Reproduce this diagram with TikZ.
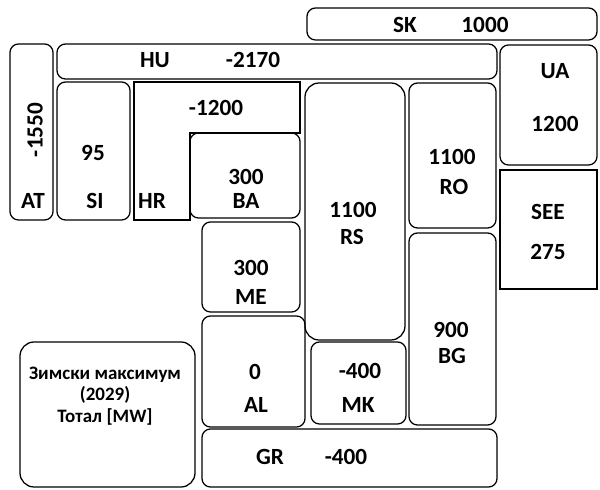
\documentclass[tikz,border=0pt]{standalone}
\usepackage{fontspec}
\setmainfont{Carlito}
\begin{document}
\begin{tikzpicture}[x=0.025cm, y=-0.025cm,
  box/.style={draw, line width=0.9pt, rounded corners=6pt},
  lbl/.style={font=\bfseries\fontsize{16.5}{18}\selectfont, inner sep=1pt},
  note/.style={font=\bfseries\fontsize{13.5}{15.5}\selectfont, align=center, inner sep=1pt}]
  \useasboundingbox (0,0) rectangle (600,490);
  % top row
  \draw[box] (307,8) rectangle (597,40);
  \draw[box] (57,44) rectangle (497,79);
  \draw[box] (10,44) rectangle (53,220);
  \draw[box] (500,45) rectangle (597,165);
  \draw[line width=0.9pt] (500,170) rectangle (597,289);
  % west side
  \draw[box] (57,82) rectangle (130,220);
  \draw[line width=0.9pt] (134,82) -- (300,82) -- (300,133) -- (190,133) -- (190,220) -- (134,220) -- cycle;
  \draw[box] (190,133) rectangle (300,218);
  \draw[box] (202,222) rectangle (300,312);
  \draw[box] (202,316) rectangle (305,427);
  % middle and east
  \draw[box, rounded corners=10pt] (305,83) rectangle (405,340);
  \draw[box] (409,83) rectangle (496,228);
  \draw[box] (311,342) rectangle (406,424);
  \draw[box] (409,233) rectangle (496,425);
  \draw[box] (202,429) rectangle (497,487);
  % legend
  \draw[box, rounded corners=10pt] (20,342) rectangle (195,487);

  \node[lbl] (sk) at (405,25) {SK};
  \node[lbl] (skv) at (485,25) {1000};
  \node[lbl] (hu) at (155,60) {HU};
  \node[lbl] (huv) at (253,60) {-2170};
  \node[lbl, rotate=90] (atv) at (35,130) {-1550};
  \node[lbl] (at) at (33,201) {AT};
  \node[lbl] (siv) at (93,153) {95};
  \node[lbl] (si) at (95,201) {SI};
  \node[lbl] (hr) at (152,201) {HR};
  \node[lbl] (hrv) at (216,108) {-1200};
  \node[lbl] (bav) at (246,177) {300};
  \node[lbl] (ba) at (246,201) {BA};
  \node[lbl] (rsv) at (353,210) {1100};
  \node[lbl] (rs) at (352,237) {RS};
  \node[lbl] (rov) at (452,157) {1100};
  \node[lbl] (ro) at (454,187) {RO};
  \node[lbl] (ua) at (555,71) {UA};
  \node[lbl] (uav) at (555,124) {1200};
  \node[lbl] (see) at (548,212) {SEE};
  \node[lbl] (seev) at (548,252) {275};
  \node[lbl] (mev) at (251,268) {300};
  \node[lbl] (me) at (251,297) {ME};
  \node[lbl] (alv) at (255,372) {0};
  \node[lbl] (al) at (256,405) {AL};
  \node[lbl] (mkv) at (360,371) {-400};
  \node[lbl] (mk) at (358,405) {MK};
  \node[lbl] (bgv) at (451,330) {900};
  \node[lbl] (bg) at (452,356) {BG};
  \node[lbl] (gr) at (270,457) {GR};
  \node[lbl] (grv) at (346,457) {-400};
  \node[note] (legend) at (105,396) {Зимски максимум\\(2029)\\Тотал [MW]};
\end{tikzpicture}
\end{document}
